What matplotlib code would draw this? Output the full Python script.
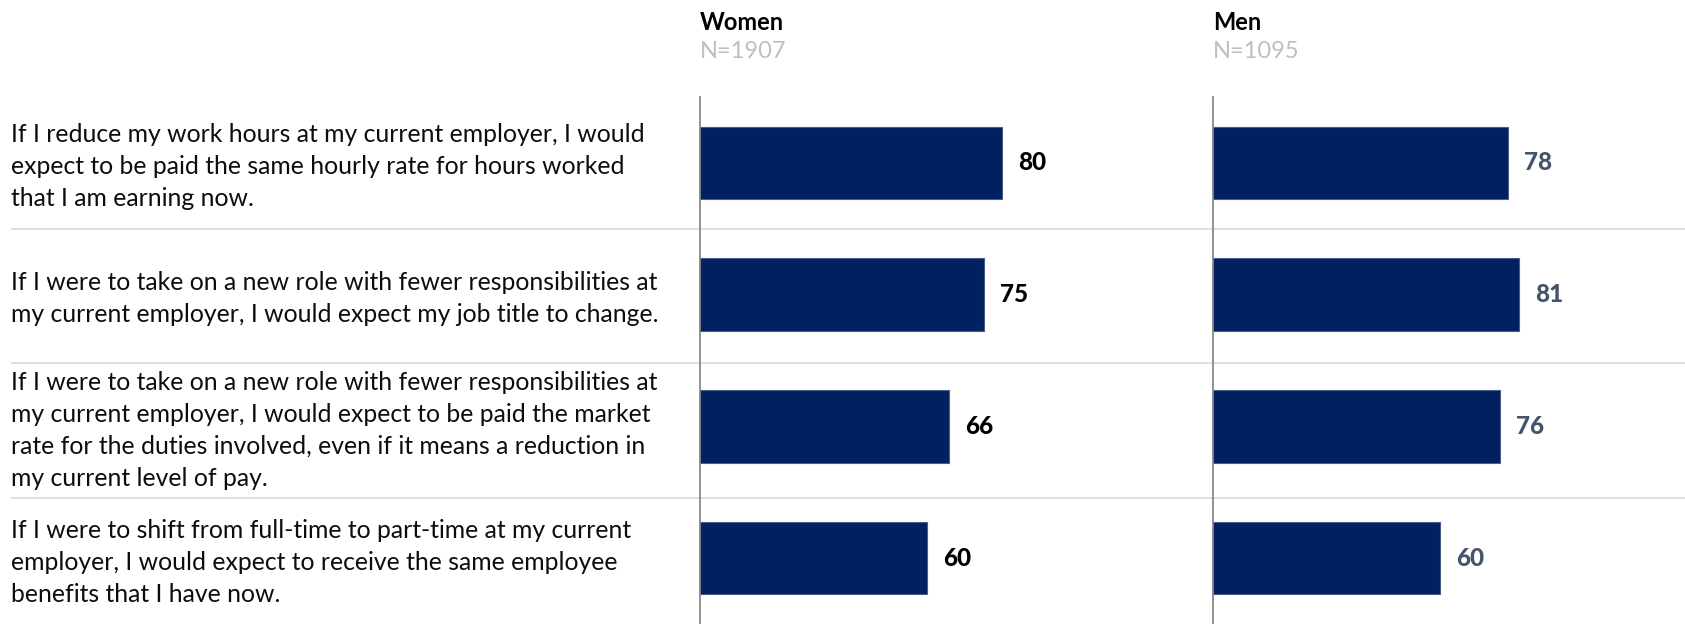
import matplotlib.pyplot as plt

plt.rcParams['font.family'] = ['Lato', 'DejaVu Sans']

statements = [
    "If I reduce my work hours at my current employer, I would\nexpect to be paid the same hourly rate for hours worked\nthat I am earning now.",
    "If I were to take on a new role with fewer responsibilities at\nmy current employer, I would expect my job title to change.",
    "If I were to take on a new role with fewer responsibilities at\nmy current employer, I would expect to be paid the market\nrate for the duties involved, even if it means a reduction in\nmy current level of pay.",
    "If I were to shift from full-time to part-time at my current\nemployer, I would expect to receive the same employee\nbenefits that I have now.",
]
women = [80, 75, 66, 60]
men = [78, 81, 76, 60]
groups = ["Women", "Men"]
sample_sizes = ["N=1907", "N=1095"]

bar_color = "#002060"
W, H = 1685, 624
px_per_unit = 3.78
top = 97  # px from top where the axis lines start

fig = plt.figure(figsize=(W / 100, H / 100), dpi=100)

# background axes for statements and separator lines
ax_bg = fig.add_axes([11 / W, 0, 1 - 11 / W, (H - top) / H])
ax_bg.set_xlim(0, 1)
ax_bg.set_ylim(3.5, -0.5)
ax_bg.axis("off")
for y in [0.5, 1.52, 2.54]:
    ax_bg.axhline(y, color="#d9d9d9", lw=1.2)
for i, s in enumerate(statements):
    ax_bg.text(0, i + 0.03, s, ha="left", va="center", fontsize=17.8,
               linespacing=1.47, color="#0d0d0d")

lefts = [700, 1213]
width_px = 460
for k, (vals, name, n, x0) in enumerate(zip([women, men], groups, sample_sizes, lefts)):
    ax = fig.add_axes([x0 / W, 0, width_px / W, (H - top) / H])
    ax.set_facecolor("none")
    ax.barh(range(len(vals)), vals, height=0.55, color=bar_color,
            edgecolor="#4a5c8c", linewidth=0.8)
    ax.set_xlim(0, width_px / px_per_unit)
    ax.set_ylim(3.5, -0.5)
    for side in ["top", "right", "bottom"]:
        ax.spines[side].set_visible(False)
    ax.spines["left"].set_color("#7f7f7f")
    ax.spines["left"].set_linewidth(1.2)
    ax.set_xticks([])
    ax.set_yticks([])
    val_color = "#000000" if k == 0 else "#44546a"
    for i, v in enumerate(vals):
        ax.text(v + 16 / px_per_unit, i, str(v), ha="left", va="center",
                fontsize=17.5, fontweight="black", color=val_color)
    fig.text(x0 / W, 1 - 22 / H, name, ha="left", va="center",
             fontsize=17, fontweight="bold", color="#000000")
    fig.text(x0 / W, 1 - 52 / H, n, ha="left", va="center",
             fontsize=17, color="#bfbfbf")

fig.savefig("out.png", dpi=100)
